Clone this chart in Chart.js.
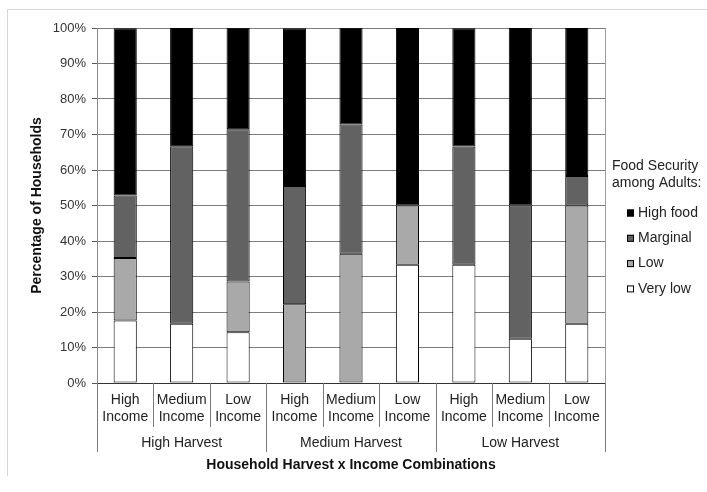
<!DOCTYPE html>
<html>
<head>
<meta charset="utf-8">
<script src="https://cdn.jsdelivr.net/npm/chart.js@4.4.1/dist/chart.umd.min.js"></script>
<style>
  html, body { margin: 0; padding: 0; background: #fff; }
  #wrap { position: relative; width: 707px; height: 492px; }
  canvas { display: block; }
</style>
</head>
<body>
<div id="wrap"><canvas id="c" width="707" height="492"></canvas></div>
<script>
// Income level within each harvest group (two-line tick labels)
const categories = [
  ['High', 'Income'], ['Medium', 'Income'], ['Low', 'Income'],
  ['High', 'Income'], ['Medium', 'Income'], ['Low', 'Income'],
  ['High', 'Income'], ['Medium', 'Income'], ['Low', 'Income']
];
const harvestGroups = ['High Harvest', 'Medium Harvest', 'Low Harvest'];
const yTicks = [0, 10, 20, 30, 40, 50, 60, 70, 80, 90, 100];

// Share of households (%) by adult food security level
const veryLow  = [17.6, 16.7, 14.3,  0.0,  0.0, 33.3, 33.3, 12.5, 16.7];
const low      = [17.6,  0.0, 14.3, 22.2, 36.4, 16.7,  0.0,  0.0, 33.3];
const marginal = [17.6, 50.0, 42.9, 33.3, 36.4,  0.0, 33.3, 37.5,  8.3];
const highFood = [47.1, 33.3, 28.6, 44.4, 27.3, 50.0, 33.3, 50.0, 41.7];

const legendTitle = ['Food Security', 'among Adults:'];
const FONT = "'Liberation Sans', Arial, sans-serif";

// Thin outer frame of the chart area
const framePlugin = {
  id: 'frame',
  beforeDraw(chart) {
    const ctx = chart.ctx;
    ctx.save();
    ctx.strokeStyle = '#d6d6d6';
    ctx.lineWidth = 1;
    ctx.beginPath();
    ctx.moveTo(7.5, 476);
    ctx.lineTo(7.5, 9.5);
    ctx.lineTo(707, 9.5);
    ctx.stroke();
    // plot area side borders
    const a = chart.chartArea;
    ctx.strokeStyle = '#9a9a9a';
    ctx.beginPath();
    ctx.moveTo(Math.round(a.right) + 0.5, a.top);
    ctx.lineTo(Math.round(a.right) + 0.5, a.bottom);
    ctx.stroke();
    ctx.restore();
  }
};

// Category separators and harvest group labels below the x axis
const groupAxisPlugin = {
  id: 'groupAxis',
  afterDraw(chart) {
    const ctx = chart.ctx;
    const xs = chart.scales.x;
    const a = chart.chartArea;
    const n = categories.length;
    const edge = i => {
      if (i === 0) return a.left;
      if (i === n) return a.right;
      return (xs.getPixelForValue(i - 1) + xs.getPixelForValue(i)) / 2;
    };
    ctx.save();
    ctx.strokeStyle = '#7a7a7a';
    ctx.lineWidth = 1;
    for (let i = 0; i <= n; i++) {
      const x = Math.round(edge(i)) + 0.5;
      const long = i % 3 === 0;
      ctx.beginPath();
      ctx.moveTo(x, a.bottom);
      ctx.lineTo(x, a.bottom + (long ? 69 : 44));
      ctx.stroke();
    }
    ctx.fillStyle = '#222';
    ctx.font = '14px ' + FONT;
    ctx.textAlign = 'center';
    ctx.textBaseline = 'middle';
    harvestGroups.forEach((g, k) => {
      const cx = (edge(k * 3) + edge(k * 3 + 3)) / 2;
      ctx.fillText(g, cx, a.bottom + 60);
    });
    ctx.restore();
  }
};

// Legend at right, top item first
const sideLegendPlugin = {
  id: 'sideLegend',
  afterDraw(chart) {
    const ctx = chart.ctx;
    const a = chart.chartArea;
    const x0 = a.right + 7;
    ctx.save();
    ctx.font = '14px ' + FONT;
    ctx.fillStyle = '#222';
    ctx.textAlign = 'left';
    ctx.textBaseline = 'middle';
    legendTitle.forEach((t, i) => ctx.fillText(t, x0, 166 + i * 17));
    const sets = chart.data.datasets.slice().reverse();
    sets.forEach((ds, i) => {
      const y = 213 + i * 25.3;
      ctx.fillStyle = ds.backgroundColor;
      ctx.fillRect(x0 + 15, y - 3.5, 7, 7);
      ctx.strokeStyle = '#000';
      ctx.lineWidth = 1;
      ctx.strokeRect(x0 + 15.5, y - 3, 6, 6);
      ctx.fillStyle = '#222';
      ctx.fillText(ds.label, x0 + 26, y);
    });
    ctx.restore();
  }
};

const barStyle = {
  borderColor: '#000',
  borderWidth: 1,
  borderSkipped: false,
  barPercentage: 0.41,
  categoryPercentage: 1.0
};

new Chart(document.getElementById('c'), {
  type: 'bar',
  data: {
    labels: categories,
    datasets: [
      Object.assign({ label: 'Very low', data: veryLow, backgroundColor: '#ffffff' }, barStyle),
      Object.assign({ label: 'Low', data: low, backgroundColor: '#a9a9a9' }, barStyle),
      Object.assign({ label: 'Marginal', data: marginal, backgroundColor: '#626262' }, barStyle),
      Object.assign({ label: 'High food', data: highFood, backgroundColor: '#000000' }, barStyle)
    ]
  },
  options: {
    responsive: false,
    animation: false,
    devicePixelRatio: 1,
    layout: { padding: { left: 0, top: 28, right: 102, bottom: 0 } },
    plugins: {
      legend: { display: false },
      tooltip: { enabled: false }
    },
    scales: {
      x: {
        stacked: true,
        grid: { display: false, drawTicks: false },
        border: { display: true, color: '#333', width: 1 },
        ticks: {
          color: '#222',
          font: { family: FONT, size: 14 },
          padding: 9,
          maxRotation: 0,
          autoSkip: false
        },
        title: {
          display: true,
          text: 'Household Harvest x Income Combinations',
          color: '#111',
          font: { family: FONT, size: 14, weight: 'bold' },
          padding: { top: 0, bottom: 18 }
        },
        afterFit(scale) { scale.height = 109; }
      },
      y: {
        stacked: true,
        min: 0,
        max: 100,
        afterBuildTicks(scale) { scale.ticks = yTicks.map(v => ({ value: v })); },
        grid: { color: '#7c7c7c', lineWidth: 1, tickLength: 5, tickColor: '#555' },
        border: { display: true, color: '#8a8a8a', width: 1 },
        ticks: {
          color: '#333',
          font: { family: FONT, size: 13 },
          padding: 6,
          callback: v => v + '%'
        },
        title: {
          display: true,
          text: 'Percentage of Households',
          color: '#111',
          font: { family: FONT, size: 14, weight: 'bold' },
          padding: { top: 29, bottom: 0 }
        },
        afterFit(scale) { scale.width = 97; }
      }
    }
  },
  plugins: [framePlugin, groupAxisPlugin, sideLegendPlugin]
});
</script>
</body>
</html>
